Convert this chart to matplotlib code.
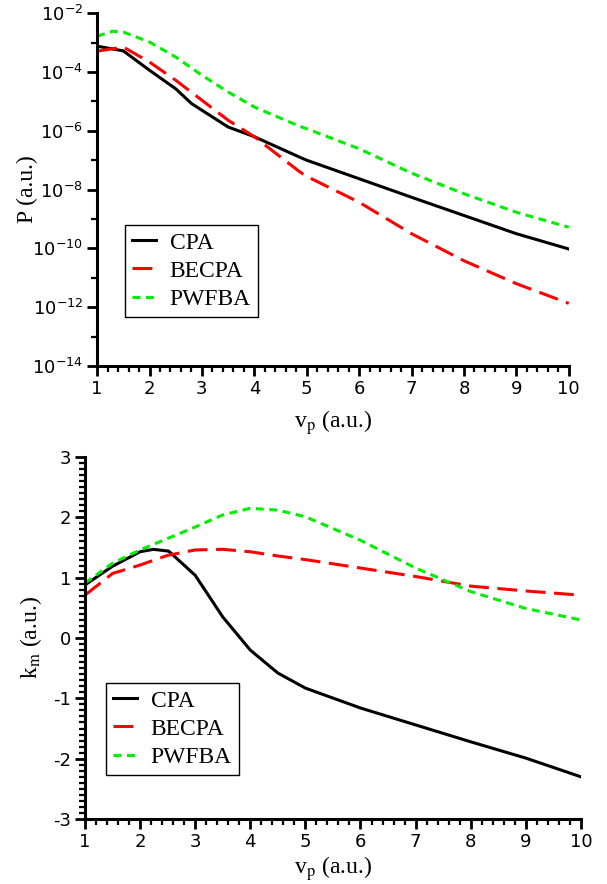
#!/usr/bin/env python3

import matplotlib
matplotlib.use("Agg")
import matplotlib.pyplot as plt
from matplotlib.ticker import MultipleLocator, FixedLocator, NullFormatter, FixedFormatter

# top panel: probability P (log10 values)
v_p_top = [1.0, 1.5, 2.0, 2.5, 2.8, 3.0, 3.5, 4.0, 4.87, 5.0, 6.0, 7.0, 8.0, 9.0, 10.0]
logP_cpa = [-3.12, -3.28, -3.94, -4.57, -5.07, -5.30, -5.87, -6.20, -6.90, -7.00,
            -7.63, -8.26, -8.88, -9.50, -10.02]
v_p_top2 = [1.0, 1.5, 2.0, 2.5, 3.0, 3.5, 4.0, 4.87, 5.0, 6.0, 7.0, 8.0, 9.0, 10.0]
logP_becpa = [-3.29, -3.15, -3.66, -4.28, -4.96, -5.64, -6.20, -7.40, -7.55,
              -8.43, -9.50, -10.42, -11.20, -11.87]
v_p_top3 = [1.0, 1.3, 1.5, 2.0, 2.5, 3.0, 3.5, 4.0, 4.87, 5.0, 6.0, 7.0, 8.0, 9.0, 10.0]
logP_pwfba = [-2.78, -2.61, -2.64, -2.98, -3.49, -4.11, -4.68, -5.19, -5.85, -5.93,
              -6.61, -7.44, -8.14, -8.77, -9.28]

# bottom panel: k_m
v_p_cpa = [1.0, 1.5, 2.0, 2.24, 2.52, 3.0, 3.5, 4.0, 4.5, 5.0, 6.0, 7.0, 8.0, 9.0, 10.0]
km_cpa = [0.88, 1.19, 1.43, 1.47, 1.44, 1.04, 0.35, -0.20, -0.58, -0.83,
          -1.16, -1.44, -1.72, -1.99, -2.30]
v_p_bot = [1.0, 1.5, 2.0, 2.5, 3.0, 3.5, 4.0, 4.5, 5.0, 6.0, 7.0, 8.0, 9.0, 10.0]
km_becpa = [0.71, 1.07, 1.21, 1.37, 1.46, 1.47, 1.43, 1.36, 1.30, 1.16, 1.02, 0.86, 0.78, 0.71]
km_pwfba = [0.91, 1.24, 1.46, 1.65, 1.84, 2.04, 2.15, 2.12, 2.01, 1.62, 1.16, 0.77, 0.49, 0.30]

labels = ["CPA", "BECPA", "PWFBA"]

plt.rcParams["mathtext.fontset"] = "stix"
plt.rcParams["axes.unicode_minus"] = False
SERIF = "Liberation Serif"
TICK_FS = 13
LABEL_FS = 17

cpa_style = dict(color="black", linewidth=2.2, linestyle="-")
becpa_style = dict(color="#ff0000", linewidth=2.2, linestyle=(0, (6.5, 2.8)))
pwfba_style = dict(color="#00ee00", linewidth=2.2, linestyle=(0, (2.6, 1.8)))


def style_axes(ax):
    for side in ("top", "right"):
        ax.spines[side].set_visible(False)
    for side in ("left", "bottom"):
        ax.spines[side].set_linewidth(2.2)
    ax.tick_params(which="major", direction="out", length=7, width=2,
                   labelsize=TICK_FS, pad=3)
    ax.tick_params(which="minor", direction="out", length=4, width=1.6)
    ax.xaxis.set_major_locator(MultipleLocator(1))
    ax.xaxis.set_minor_locator(MultipleLocator(0.2))
    ax.set_xlim(1, 10)
    for lab in ax.get_xticklabels() + ax.get_yticklabels():
        lab.set_fontfamily("DejaVu Sans")


def add_legend(ax, anchor):
    leg = ax.legend(labels, loc="upper left", bbox_to_anchor=anchor, frameon=True,
                    fancybox=False, framealpha=1, edgecolor="black",
                    prop={"family": SERIF, "size": LABEL_FS},
                    handlelength=1.0, handletextpad=0.6, labelspacing=0.28,
                    borderpad=0.3, borderaxespad=0)
    leg.get_frame().set_linewidth(1.0)


fig = plt.figure(figsize=(6.07, 8.84), dpi=100)

# top panel
ax1 = fig.add_axes([0.160, 0.586, 0.777, 0.399])
ax1.plot(v_p_top, [10 ** y for y in logP_cpa], **cpa_style)
ax1.plot(v_p_top2, [10 ** y for y in logP_becpa], **becpa_style)
ax1.plot(v_p_top3, [10 ** y for y in logP_pwfba], **pwfba_style)
ax1.set_yscale("log")
ax1.set_ylim(1e-14, 1e-2)
ax1.yaxis.set_major_locator(FixedLocator([10.0 ** e for e in range(-14, -1, 2)]))
ax1.yaxis.set_major_formatter(FixedFormatter(
    [r"$\mathdefault{10^{%d}}$" % e for e in range(-14, -1, 2)]))
ax1.yaxis.set_minor_locator(FixedLocator([10.0 ** e for e in range(-13, -2, 2)]))
ax1.yaxis.set_minor_formatter(NullFormatter())
style_axes(ax1)
ax1.set_ylabel("P (a.u.)", fontfamily=SERIF, fontsize=LABEL_FS)
ax1.set_xlabel(r"v$_\mathrm{p}$ (a.u.)", fontfamily=SERIF, fontsize=LABEL_FS)
ax1.yaxis.set_label_coords(-0.125, 0.5)
ax1.xaxis.set_label_coords(0.5, -0.12)
add_legend(ax1, (0.059, 0.40))

# bottom panel
ax2 = fig.add_axes([0.140, 0.0735, 0.817, 0.4095])
ax2.plot(v_p_cpa, km_cpa, **cpa_style)
ax2.plot(v_p_bot, km_becpa, **becpa_style)
ax2.plot(v_p_bot, km_pwfba, **pwfba_style)
ax2.set_ylim(-3, 3)
ax2.yaxis.set_major_locator(MultipleLocator(1))
ax2.yaxis.set_minor_locator(MultipleLocator(0.1))
style_axes(ax2)
ax2.set_ylabel(r"k$_\mathrm{m}$ (a.u.)", fontfamily=SERIF, fontsize=LABEL_FS)
ax2.set_xlabel(r"v$_\mathrm{p}$ (a.u.)", fontfamily=SERIF, fontsize=LABEL_FS)
ax2.yaxis.set_label_coords(-0.083, 0.5)
ax2.xaxis.set_label_coords(0.5, -0.098)
add_legend(ax2, (0.042, 0.376))

fig.savefig("out.png", dpi=100)
